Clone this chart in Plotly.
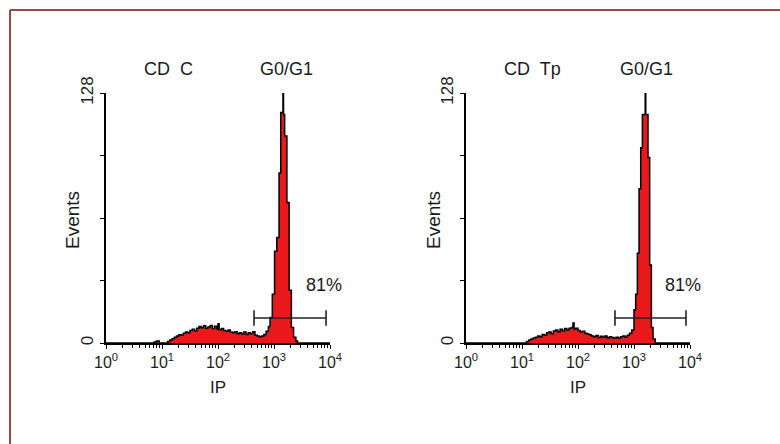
import plotly.graph_objects as go

# ---------------- data ----------------
# step histogram: log10(IP) at which each step starts, and event count
LEFT_LOG = [0.00, 0.86, 0.90, 0.95, 1.10, 1.14, 1.18, 1.22, 1.26, 1.30, 1.34, 1.38,
            1.42, 1.46, 1.50, 1.54, 1.58, 1.62, 1.66, 1.70, 1.74, 1.78, 1.82, 1.86,
            1.90, 1.94, 1.98, 2.00, 2.02, 2.06, 2.10, 2.14, 2.18, 2.22, 2.26, 2.30,
            2.34, 2.38, 2.42, 2.46, 2.50, 2.54, 2.58, 2.62, 2.66, 2.70, 2.74, 2.78,
            2.82, 2.86, 2.90, 2.93, 2.97, 3.01, 3.05, 3.09, 3.12, 3.16, 3.17, 3.19,
            3.23, 3.27, 3.31, 3.35, 3.39, 3.42, 4.00]
LEFT_COUNT = [0.0, 0.5, 1.0, 0.0, 0.8, 1.5, 2.2, 3.0, 3.6, 4.2, 4.0, 5.0,
              5.6, 5.2, 6.4, 7.0, 6.2, 7.6, 8.4, 7.8, 8.8, 7.6, 8.2, 9.0,
              7.4, 8.6, 7.2, 9.8, 6.8, 7.4, 6.4, 6.0, 6.6, 5.6, 5.2, 5.8,
              4.8, 5.2, 4.6, 5.6, 4.4, 5.2, 4.8, 5.8, 4.0, 3.6, 3.2, 3.6,
              4.4, 6.0, 8.5, 13.0, 25.0, 47.0, 54.0, 87.0, 118.0, 128.0, 117.0, 106.0,
              72.0, 27.0, 8.0, 3.0, 1.0, 0.0, 0.0]

RIGHT_LOG = [0.00, 1.08, 1.12, 1.16, 1.20, 1.24, 1.28, 1.32, 1.36, 1.40, 1.44, 1.48,
             1.52, 1.56, 1.60, 1.64, 1.68, 1.72, 1.76, 1.80, 1.84, 1.88, 1.91, 1.93,
             1.96, 2.00, 2.04, 2.08, 2.12, 2.16, 2.20, 2.24, 2.28, 2.32, 2.36, 2.40,
             2.44, 2.48, 2.52, 2.56, 2.60, 2.64, 2.68, 2.72, 2.76, 2.80, 2.84, 2.88,
             2.92, 2.96, 3.00, 3.03, 3.06, 3.09, 3.12, 3.15, 3.19, 3.20, 3.21, 3.25,
             3.28, 3.31, 3.34, 3.38, 4.00]
RIGHT_COUNT = [0.0, 0.8, 1.6, 2.0, 2.6, 3.0, 3.6, 3.2, 4.4, 4.0, 5.2, 5.6,
               4.8, 6.2, 6.6, 5.8, 7.0, 6.2, 7.4, 6.6, 7.6, 8.0, 10.2, 7.0,
               7.6, 6.4, 5.6, 6.0, 5.0, 4.6, 4.2, 3.6, 3.2, 3.8, 2.8, 3.4,
               3.0, 3.6, 2.6, 3.2, 2.8, 2.4, 3.0, 2.6, 3.2, 3.6, 3.0, 4.0,
               5.0, 6.6, 17.0, 25.0, 46.0, 79.0, 100.0, 117.0, 117.0, 128.0, 117.0, 95.0,
               40.0, 8.0, 2.0, 0.0, 0.0]

GATE_LEFT_X = [440, 8500]
GATE_RIGHT_X = [457, 8480]
GATE_Y = [12.8, 12.8]

X_TICKVALS = [1, 10, 100, 1000, 10000]
X_TICKTEXT = ["10<sup>0</sup>", "10<sup>1</sup>", "10<sup>2</sup>", "10<sup>3</sup>", "10<sup>4</sup>"]
Y_TICKVALS = [0, 32, 64, 96, 128]
Y_TICKTEXT = ["0", "", "", "", "128"]

SAMPLE_LABELS = ["CD  C", "CD  Tp"]
PEAK_LABEL = "G0/G1"
GATE_LABEL = "81%"

# ---------------- styling ----------------
W, H = 780, 444
FONT = "Arial, Liberation Sans, sans-serif"
RED = "#e9191c"
BORDER = "#9e4646"


def px(x, y):
    return x / W, 1 - y / H


fig = go.Figure()

for i, (lg, cnt, gx) in enumerate([(LEFT_LOG, LEFT_COUNT, GATE_LEFT_X),
                                   (RIGHT_LOG, RIGHT_COUNT, GATE_RIGHT_X)]):
    xa = "x" if i == 0 else "x2"
    ya = "y" if i == 0 else "y2"
    fig.add_trace(go.Scatter(
        x=[10 ** v for v in lg], y=cnt, mode="lines", line_shape="hv",
        line=dict(color="black", width=1.5), fill="tozeroy", fillcolor=RED,
        xaxis=xa, yaxis=ya, showlegend=False, hoverinfo="skip"))
    fig.add_trace(go.Scatter(
        x=gx, y=GATE_Y, mode="lines+markers",
        line=dict(color="#222222", width=1.6),
        marker=dict(symbol="line-ns-open", size=11, line=dict(color="#222222", width=1.6)),
        xaxis=xa, yaxis=ya, showlegend=False, hoverinfo="skip"))

x_dom = [[106 / W, 330 / W], [466 / W, 690 / W]]
y_dom = [(H - 343) / H, (H - 93) / H]

common_x = dict(
    type="log", range=[0, 4], tickmode="array", tickvals=X_TICKVALS, ticktext=X_TICKTEXT,
    ticks="outside", ticklen=4, tickwidth=1.3, tickcolor="black",
    showline=True, linecolor="black", linewidth=1.8, showgrid=False, zeroline=False,
    automargin=False,
    tickfont=dict(family=FONT, size=16, color="#222222"),
    minor=dict(dtick="D1", ticks="outside", ticklen=3, tickwidth=1, tickcolor="black", showgrid=False),
)
common_y = dict(
    range=[0, 128], tickmode="array", tickvals=Y_TICKVALS, ticktext=Y_TICKTEXT,
    tickangle=-90, ticks="outside", ticklen=4, tickwidth=1.3, tickcolor="black",
    showline=True, linecolor="black", linewidth=1.8, showgrid=False, zeroline=False,
    automargin=False,
    tickfont=dict(family=FONT, size=17, color="#222222"),
)

fig.update_layout(
    width=W, height=H, margin=dict(l=0, r=0, t=0, b=0, autoexpand=False),
    paper_bgcolor="white", plot_bgcolor="white",
    xaxis=dict(domain=x_dom[0], anchor="y", **common_x),
    yaxis=dict(domain=y_dom, anchor="x", **common_y),
    xaxis2=dict(domain=x_dom[1], anchor="y2", **common_x),
    yaxis2=dict(domain=y_dom, anchor="x2", **common_y),
)

ann = []


def text(x, y, s, size, angle=0):
    ax, ay = px(x, y)
    ann.append(dict(x=ax, y=ay, xref="paper", yref="paper", text=s, showarrow=False,
                    xanchor="center", yanchor="middle", textangle=angle,
                    font=dict(family=FONT, size=size, color="#1a1a1a")))


PANELS = [dict(sample=168, peak=286, ev=72, ip=218, gate=324),
          dict(sample=532, peak=646, ev=433, ip=578, gate=683)]
for p, lab in zip(PANELS, SAMPLE_LABELS):
    text(p["sample"], 69, lab, 18)
    text(p["peak"], 69, PEAK_LABEL, 18)
    text(p["ev"], 220, "Events", 19, -90)
    text(p["ip"], 387, "IP", 17)
    text(p["gate"], 285, GATE_LABEL, 18)

fig.update_layout(annotations=ann)

fig.add_shape(type="line", xref="paper", yref="paper", x0=10 / W, y0=1 - 10 / H, x1=1, y1=1 - 10 / H,
              line=dict(color=BORDER, width=2))
fig.add_shape(type="line", xref="paper", yref="paper", x0=10 / W, y0=1 - 10 / H, x1=10 / W, y1=0,
              line=dict(color=BORDER, width=2))

fig.write_html("out.html", config={"responsive": False},
               post_script="document.body.style.margin='0px';document.body.style.overflow='hidden';")
